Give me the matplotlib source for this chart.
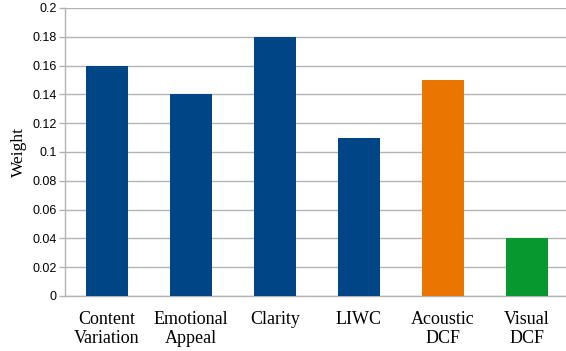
import matplotlib
matplotlib.use("Agg")
import matplotlib.pyplot as plt

categories = ["Content\nVariation", "Emotional\nAppeal", "Clarity", "LIWC", "Acoustic\nDCF", "Visual\nDCF"]
weights = [0.16, 0.14, 0.18, 0.11, 0.15, 0.04]
colors = ["#004586", "#004586", "#004586", "#004586", "#ea7500", "#07992f"]
yticks = [0, 0.02, 0.04, 0.06, 0.08, 0.1, 0.12, 0.14, 0.16, 0.18, 0.2]
yticklabels = ["0", "0.02", "0.04", "0.06", "0.08", "0.1", "0.12", "0.14", "0.16", "0.18", "0.2"]

W, H = 566, 351
fig = plt.figure(figsize=(W / 100, H / 100), dpi=100)
ax = fig.add_axes([65 / W, 1 - 296 / H, 501 / W, 288 / H])

x = list(range(len(categories)))
ax.bar(x, weights, width=0.5, color=colors, zorder=3)
ax.set_xlim(-0.5, 5.464)
ax.set_ylim(0, 0.2)
ax.set_yticks(yticks)
ax.set_yticklabels(yticklabels, fontfamily="Liberation Sans", fontsize=9)
ax.set_xticks(x)
ax.set_xticklabels(categories, fontfamily="Liberation Serif", fontsize=13, linespacing=1.1)
ax.tick_params(axis="x", length=0, pad=11)
ax.tick_params(axis="y", length=4, color="#b3b3b3", width=1, pad=2)
ax.grid(axis="y", color="#b3b3b3", linewidth=1, zorder=0)
for s in ["top", "right"]:
    ax.spines[s].set_visible(False)
for s in ["left", "bottom"]:
    ax.spines[s].set_color("#b3b3b3")
    ax.spines[s].set_linewidth(1)
ax.set_ylabel("Weight", fontfamily="Liberation Serif", fontsize=12.5)
ax.yaxis.set_label_coords(-38 / 501, 0.5)

fig.savefig("out.png", dpi=100)
